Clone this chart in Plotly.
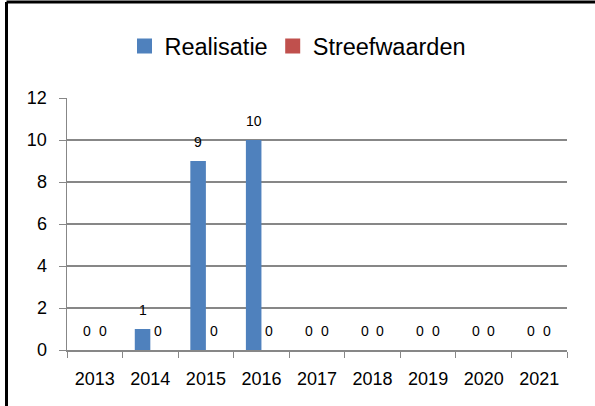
import plotly.graph_objects as go

years = ["2013", "2014", "2015", "2016", "2017", "2018", "2019", "2020", "2021"]
realisatie = [0, 1, 9, 10, None, None, None, None, None]
realisatie_labels = ["0", "1", "9", "10", "0", "0", "0", "0", "0"]
streefwaarden = [0, 0, 0, 0, 0, 0, 0, 0, 0]
streef_labels = ["0", "0", "0", "0", "0", "0", "0", "0", "0"]
y_ticks = [0, 2, 4, 6, 8, 10, 12]

BLUE = "#4F81BD"
RED = "#C0504D"
GRID = "#878787"
FONT = "Liberation Sans"

fig = go.Figure()
fig.add_trace(go.Bar(name="Realisatie", x=years, y=[v if v is not None else 0 for v in realisatie],
                     marker=dict(color=BLUE, line=dict(width=0)), showlegend=False))
fig.add_trace(go.Bar(name="Streefwaarden", x=years, y=streefwaarden,
                     marker=dict(color=RED, line=dict(width=0)), showlegend=False))
# legend entries with larger square swatches
fig.add_trace(go.Scatter(name="Realisatie", x=[None], y=[None], mode="markers",
                         marker=dict(symbol="square", size=15, color=BLUE)))
fig.add_trace(go.Scatter(name="Streefwaarden", x=[None], y=[None], mode="markers",
                         marker=dict(symbol="square", size=15, color=RED)))

annotations = []
for i, yr in enumerate(years):
    rv = realisatie[i] if realisatie[i] is not None else 0
    annotations.append(dict(x=i, y=rv, xref="x", yref="y", text=realisatie_labels[i],
                            showarrow=False, xshift=-7.8, yshift=19, yanchor="middle",
                            font=dict(size=14, color="black", family=FONT)))
    annotations.append(dict(x=i, y=streefwaarden[i], xref="x", yref="y", text=streef_labels[i],
                            showarrow=False, xshift=7.8, yshift=19, yanchor="middle",
                            font=dict(size=14, color="black", family=FONT)))

shapes = [
    dict(type="line", xref="paper", yref="paper", x0=-0.121, x1=1.06, y0=1.381, y1=1.381,
         line=dict(color="black", width=3)),
    dict(type="line", xref="paper", yref="paper", x0=-0.121, x1=-0.121, y0=1.381, y1=-0.3,
         line=dict(color="black", width=3)),
]

fig.update_layout(
    width=595, height=406,
    margin=dict(l=67, r=28, t=98, b=56, autoexpand=False),
    paper_bgcolor="white", plot_bgcolor="white",
    barmode="group", bargap=0.44, bargroupgap=0,
    font=dict(family=FONT, color="black"),
    showlegend=True,
    legend=dict(orientation="h", x=0.462, xanchor="center", y=1.205, yanchor="middle",
                font=dict(size=23.5, family=FONT, color="black"), itemclick=False,
                itemwidth=30, traceorder="normal", bgcolor="rgba(0,0,0,0)"),
    annotations=annotations,
    shapes=shapes,
    xaxis=dict(type="category", range=[-0.5, 8.5], showline=True, linecolor=GRID, linewidth=1.5,
               ticks="outside", tickson="boundaries", ticklen=6, tickcolor=GRID,
               showgrid=False, tickfont=dict(size=18, family=FONT, color="black"),
               ticklabelstandoff=12),
    yaxis=dict(range=[0, 12], tickvals=y_ticks, showline=True, linecolor=GRID, linewidth=1.5,
               ticks="outside", ticklen=7, tickcolor=GRID, showgrid=True, gridcolor=GRID,
               gridwidth=1.5, zeroline=False, tickfont=dict(size=18, family=FONT, color="black"),
               ticklabelstandoff=8),
)

fig.write_html("out.html", config={"displayModeBar": False, "staticPlot": True},
               post_script="document.body.style.margin='0';document.body.style.overflow='hidden';")
